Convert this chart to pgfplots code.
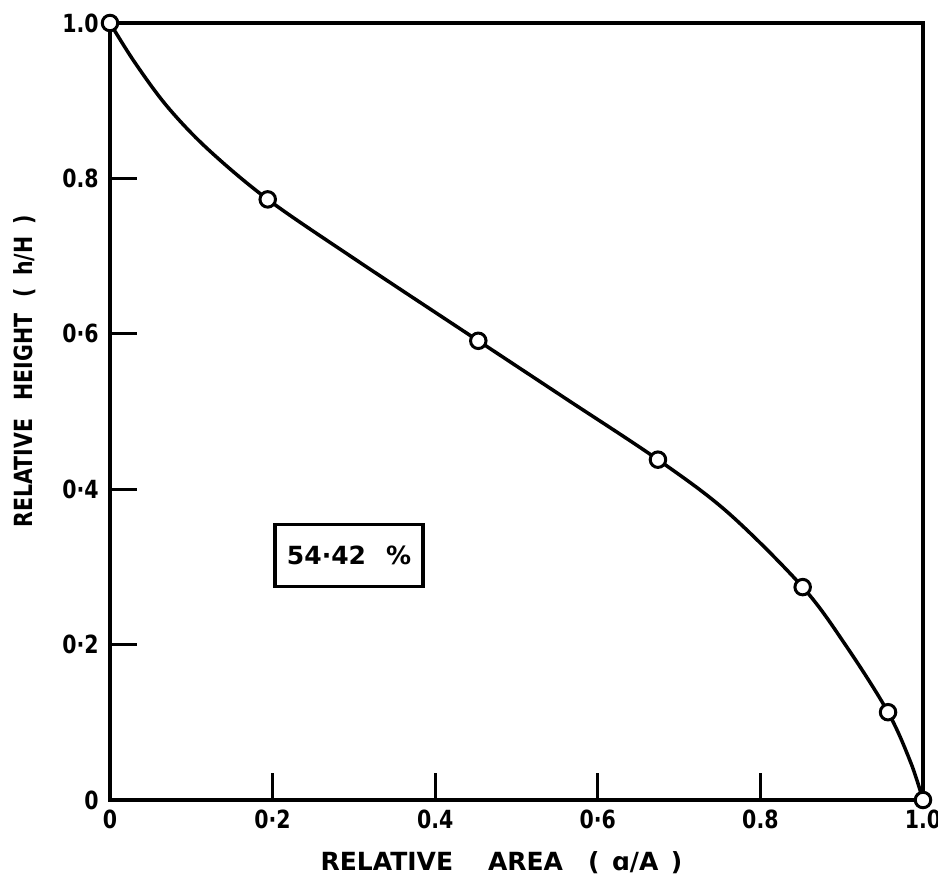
\documentclass[border=0pt]{standalone}
\usepackage{pgfplots}
\pgfplotsset{compat=1.18}
\usepackage{fontspec}
\setmainfont{DejaVu Sans}
\newfontfamily\narrowfont{DejaVu Sans}[FakeStretch=0.82]

% hypsometric curve: relative height against relative area
\pgfplotstableread{
x      y
0.000  1.000
0.030  0.950
0.070  0.893
0.120  0.838
0.194  0.773
0.300  0.697
0.453  0.591
0.560  0.517
0.674  0.438
0.760  0.370
0.852  0.274
0.905  0.199
0.957  0.113
0.985  0.048
1.000  0.000
}\curvedata

% observed points
\pgfplotstableread{
x      y
0.000  1.000
0.194  0.773
0.453  0.591
0.674  0.438
0.852  0.274
0.957  0.113
1.000  0.000
}\obsdata

\begin{document}
\begin{tikzpicture}
\begin{axis}[
  name=ax,
  scale only axis,
  width=325.2pt, height=310.8pt,
  xmin=0, xmax=1, ymin=0, ymax=1,
  clip=false,
  axis line style={line width=1.6pt},
  tick pos=left, tick align=inside,
  major tick length=10.8pt,
  tick style={line width=1.2pt, black},
  xtick={0,0.2,0.4,0.6,0.8,1},
  xticklabels={0,0·2,0.4,0·6,0.8,1.0},
  ytick={0,0.2,0.4,0.6,0.8,1},
  yticklabels={0,0·2,0·4,0·6,0.8,1.0},
  xticklabel style={anchor=center, yshift=-7.6pt, font=\narrowfont\bfseries\fontsize{10}{12}\selectfont},
  yticklabel style={anchor=east, xshift=-1pt, font=\narrowfont\bfseries\fontsize{10}{12}\selectfont},
  xlabel={RELATIVE\hspace{14pt}AREA\hspace{10pt}(\hspace{5pt}ɑ/A\hspace{5pt})},
  xlabel style={at={([xshift=-6pt]rel axis cs:0.5,0)}, anchor=center, yshift=-25pt,
    font=\bfseries\fontsize{10}{12}\selectfont},
  ylabel={\scalebox{0.82}[1]{RELATIVE\hspace{9pt}HEIGHT\hspace{8pt}(\hspace{6pt}h/H\hspace{6pt})}},
  ylabel style={at={([xshift=-34pt]rel axis cs:0,0.552)}, anchor=center,
    font=\bfseries\fontsize{10}{12}\selectfont},
]
\addplot[line width=1.4pt, smooth, tension=0.55] table[x=x, y=y] {\curvedata};
\addplot[only marks, mark=*, mark size=3.1pt,
  mark options={fill=white, draw=black, line width=1.2pt}] table[x=x, y=y] {\obsdata};
\node[draw, line width=1.3pt, minimum width=59.2pt, minimum height=24.8pt,
  font=\bfseries\fontsize{10}{12}\selectfont]
  at (axis cs:0.294,0.315) {54·42\hspace{8pt}\%};
\end{axis}
\pgfresetboundingbox
\path ([shift={(-44pt,-34pt)}]ax.south west) rectangle ([shift={(6pt,9.2pt)}]ax.north east);
\end{tikzpicture}
\end{document}
